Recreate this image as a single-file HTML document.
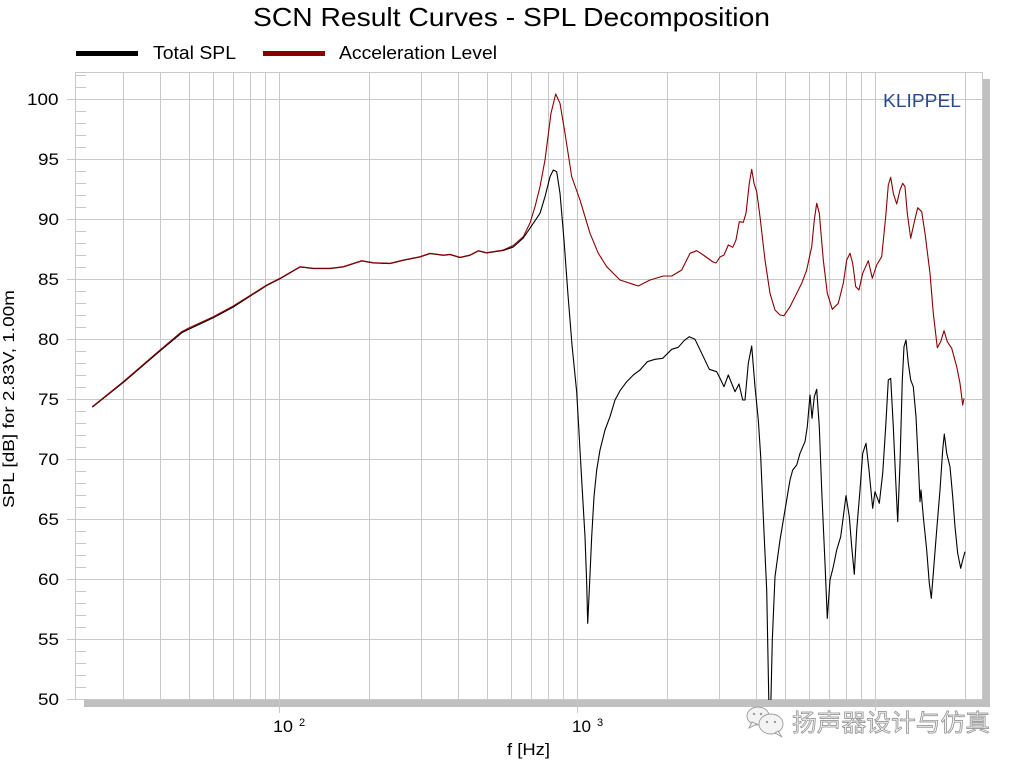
<!DOCTYPE html>
<html>
<head>
<meta charset="utf-8">
<style>
html,body{margin:0;padding:0;background:#fff;}
svg{display:block;}
text{font-family:"Liberation Sans",Arial,sans-serif;}
</style>
</head>
<body>
<svg width="1024" height="768" viewBox="0 0 1024 768" xmlns="http://www.w3.org/2000/svg">
<rect x="0" y="0" width="1024" height="768" fill="#fff"/>
<!-- title -->
<text x="253" y="26" font-size="26" fill="#000" textLength="517" lengthAdjust="spacingAndGlyphs">SCN Result Curves - SPL Decomposition</text>
<!-- legend -->
<rect x="76" y="51" width="62" height="5" fill="#000"/>
<text x="153" y="59" font-size="18" fill="#000" textLength="83" lengthAdjust="spacingAndGlyphs">Total SPL</text>
<rect x="263" y="51" width="62" height="5" fill="#8b0000"/>
<text x="339" y="59" font-size="18" fill="#000" textLength="158" lengthAdjust="spacingAndGlyphs">Acceleration Level</text>

<!-- shadow -->
<rect x="983" y="79" width="7" height="628" fill="#c0c0c0"/>
<rect x="84" y="700" width="906" height="7" fill="#c0c0c0"/>

<!-- grid -->
<g stroke="#c8c8c8" stroke-width="1" fill="none">
<path d="M123.5 72V699M160.5 72V699M189.5 72V699M213.5 72V699M233.5 72V699M250.5 72V699M265.5 72V699M369.5 72V699M421.5 72V699M458.5 72V699M487.5 72V699M511.5 72V699M531.5 72V699M548.5 72V699M563.5 72V699M667.5 72V699M719.5 72V699M756.5 72V699M785.5 72V699M809.5 72V699M829.5 72V699M846.5 72V699M861.5 72V699M965.5 72V699"/>
<path d="M279.5 72V713M577.5 72V713M875.5 72V711"/>
<path d="M67 99.5H982M67 159.5H982M67 219.5H982M67 279.5H982M67 339.5H982M67 399.5H982M67 459.5H982M67 519.5H982M67 579.5H982M67 639.5H982"/>
<rect x="75.5" y="72.5" width="907" height="627" />
<path d="M67 699.5H75"/>
<!-- minor ticks -->
<path d="M76 75.5H86M76 87.5H86M76 111.5H86M76 123.5H86M76 135.5H86M76 147.5H86M76 171.5H86M76 183.5H86M76 195.5H86M76 207.5H86M76 231.5H86M76 243.5H86M76 255.5H86M76 267.5H86M76 291.5H86M76 303.5H86M76 315.5H86M76 327.5H86M76 351.5H86M76 363.5H86M76 375.5H86M76 387.5H86M76 411.5H86M76 423.5H86M76 435.5H86M76 447.5H86M76 471.5H86M76 483.5H86M76 495.5H86M76 507.5H86M76 531.5H86M76 543.5H86M76 555.5H86M76 567.5H86M76 591.5H86M76 603.5H86M76 615.5H86M76 627.5H86M76 651.5H86M76 663.5H86M76 675.5H86M76 687.5H86"/>
</g>

<!-- y tick labels -->
<g font-size="17" fill="#000">
<text x="27" y="105" textLength="31.5" lengthAdjust="spacingAndGlyphs">100</text>
<text x="38" y="165" textLength="21" lengthAdjust="spacingAndGlyphs">95</text>
<text x="38" y="225" textLength="21" lengthAdjust="spacingAndGlyphs">90</text>
<text x="38" y="285" textLength="21" lengthAdjust="spacingAndGlyphs">85</text>
<text x="38" y="345" textLength="21" lengthAdjust="spacingAndGlyphs">80</text>
<text x="38" y="405" textLength="21" lengthAdjust="spacingAndGlyphs">75</text>
<text x="38" y="465" textLength="21" lengthAdjust="spacingAndGlyphs">70</text>
<text x="38" y="525" textLength="21" lengthAdjust="spacingAndGlyphs">65</text>
<text x="38" y="585" textLength="21" lengthAdjust="spacingAndGlyphs">60</text>
<text x="38" y="645" textLength="21" lengthAdjust="spacingAndGlyphs">55</text>
<text x="38" y="705" textLength="21" lengthAdjust="spacingAndGlyphs">50</text>
</g>
<!-- x labels -->
<text x="273" y="732" font-size="17" fill="#000" textLength="20" lengthAdjust="spacingAndGlyphs">10</text>
<text x="299" y="726" font-size="11" fill="#000">2</text>
<text x="572" y="732" font-size="17" fill="#000" textLength="19" lengthAdjust="spacingAndGlyphs">10</text>
<text x="597" y="726" font-size="11" fill="#000">3</text>
<text x="507" y="755" font-size="17" fill="#000" textLength="43" lengthAdjust="spacingAndGlyphs">f [Hz]</text>
<!-- y axis label -->
<text transform="translate(14,399) rotate(-90)" x="0" y="0" font-size="16" fill="#000" text-anchor="middle" textLength="218" lengthAdjust="spacingAndGlyphs">SPL [dB] for 2.83V, 1.00m</text>

<!-- KLIPPEL -->
<text x="883" y="107" font-size="18" fill="#2b4a8c" textLength="78" lengthAdjust="spacingAndGlyphs">KLIPPEL</text>

<defs>
<clipPath id="pc"><rect x="75" y="72" width="908" height="628"/></clipPath>
</defs>
<g clip-path="url(#pc)" fill="none" stroke-width="1.1" stroke-linejoin="round">
<polyline stroke="#000" points="92.3,407.2 123.3,382.5 160,351 181.7,332.8 188.3,329.5 213.3,317.8 233.3,307 266.7,285.5 280,278.8 300,267 313.3,268.6 330,268.6 343.3,267 361.7,261 373.3,263 390,263.6 403.3,260.3 420,257 430,253.6 443.3,255.3 450,254.6 460,257.6 470,255.3 478.3,251 486.7,253 503.3,250.5 513.3,247 523.3,238 533.3,223.3 540,213.3 545,196.7 550,176.7 553.3,170 556.7,171.7 560,193.3 564,240 568,295 572,345 576.7,392 581.7,480 585,536.7 586.7,583.3 587.7,623.3 589.3,590 591.7,536.7 594,496.7 596.7,470 600,450 605,430 610,416.7 615,400 620,390.7 626.7,381.7 633.3,375 640,370 647.3,361.7 655,359.3 662.7,358.3 671.7,349.3 678.3,347.3 684,340.7 689.3,336.7 695,339.3 701.7,353.3 709.3,369.3 716.7,371.7 720,378.3 724,386.7 728.3,375 735,391.7 739,384 742.7,400 745,400 748.3,363.3 751.7,346 755,386.7 758.3,420 760.7,456.7 763.3,516.7 766.7,590 769,710 770.7,710 772.3,640 775,576.7 780,540 785,510 790,480 792.7,470 796.7,465 800,453.3 805,441.7 807.3,426.7 810,395 812,418.3 814.3,396.7 816.7,389.3 819.3,426.7 821.7,490 825,563.3 827.3,618.3 830,580 833.3,566.7 836.7,550 840.7,536.7 843.3,516.7 846,495.7 849.3,516.7 851.7,546.7 854.3,574.3 856.7,530 860,490 862.7,453.3 866,443.3 869,470 872.7,508.3 875,491.7 879.3,503.3 882.7,473.3 885.7,426.7 888.3,380 890.7,378.3 893.3,426.7 895.7,480 897.7,521.7 900,463.3 902.3,380 904,346.7 906,340 908.3,363.3 910.7,380 913.3,386.7 916,416.7 918.3,463.3 920,501.7 921,490 923.3,516.7 926.7,550 929.3,583.3 931.3,598.3 933.3,573.3 936.7,530 940,490 942.7,450 944.3,434 946.7,453.3 950,466.7 952.7,496.7 955,526.7 957.7,553.3 960.7,568.3 962.7,560 965,551.7"/>
<polyline stroke="#8b0000" points="92.3,406.7 123.3,381.7 160,350 181.7,331.7 188.3,328.3 213.3,316.7 233.3,306 266.7,285 280,278.3 300,266.7 313.3,268.3 330,268.3 343.3,266.7 361.7,260.7 373.3,262.7 390,263.3 403.3,260 420,256.7 430,253.3 443.3,255 450,254.3 460,257.3 470,255 478.3,250.7 486.7,252.7 503.3,250 513.3,245.5 523.3,236.7 530,223 535,206.7 540,186.7 545,160 551,113.3 555.7,94 560,103.3 565,133.3 571.7,176.7 580,200 590,233.3 598.3,253.3 606.7,266.7 620,280 638.3,286 650,280 663.3,276 671.7,276 681.7,270 690,253.3 696.7,250.7 703.3,255 713,262 716,263 720,257 724,255 728.3,245 732.7,247.3 736,240 739.3,221.7 743.3,222.3 746,213.3 749.3,183.3 751.7,169.3 754,183.3 756.7,191.7 760,216.7 765,260 770,293.3 775,310 780,315 784,315.7 790,306.7 795,296.7 801.7,283.3 806.7,270 811.7,246.7 814.3,220 816.7,203.3 819.3,213.3 823.3,260 827.3,293.3 832.3,309.3 838.3,303.3 843.3,283.3 846.7,260 850,253.3 852.7,263.3 855.7,286.7 859,290 862.7,273.3 868.3,260.7 872.3,278.3 876.7,265 881.7,256.7 885.7,216.7 888.3,185 890.7,177.3 893.3,193.3 896.7,204 900,190 902.7,183.3 905,186.7 907.3,213.3 910.7,238.3 914,223.3 917.7,207.7 921.7,211.7 925,233.3 930,273.3 933.3,313.3 937.3,347.7 940.7,341.7 944,330.7 947.3,341.7 951.7,348.3 956.7,366.7 960,383.3 962.7,405 964,398.3"/>
</g>

<!-- watermark -->
<g fill="#f4f4f4" stroke="#9a9a9a" stroke-width="0.9">
<ellipse cx="758" cy="716" rx="11" ry="9"/>
<path d="M752 722 L749 728 L757 724 Z"/>
<ellipse cx="771" cy="724" rx="12" ry="10"/>
<path d="M778 731 L782 737 L775 733 Z"/>
</g>
<g fill="#9a9a9a">
<circle cx="754" cy="714" r="1.2"/><circle cx="761" cy="714" r="1.2"/>
<circle cx="767" cy="722" r="1.2"/><circle cx="775" cy="722" r="1.2"/>
</g>
<text x="792" y="731" font-size="24" fill="#f0f0f0" stroke="#8a8a8a" stroke-width="0.7" textLength="198" lengthAdjust="spacingAndGlyphs" style="font-family:'Liberation Sans','Noto Sans CJK SC',sans-serif;">扬声器设计与仿真</text>
</svg>
</body>
</html>
